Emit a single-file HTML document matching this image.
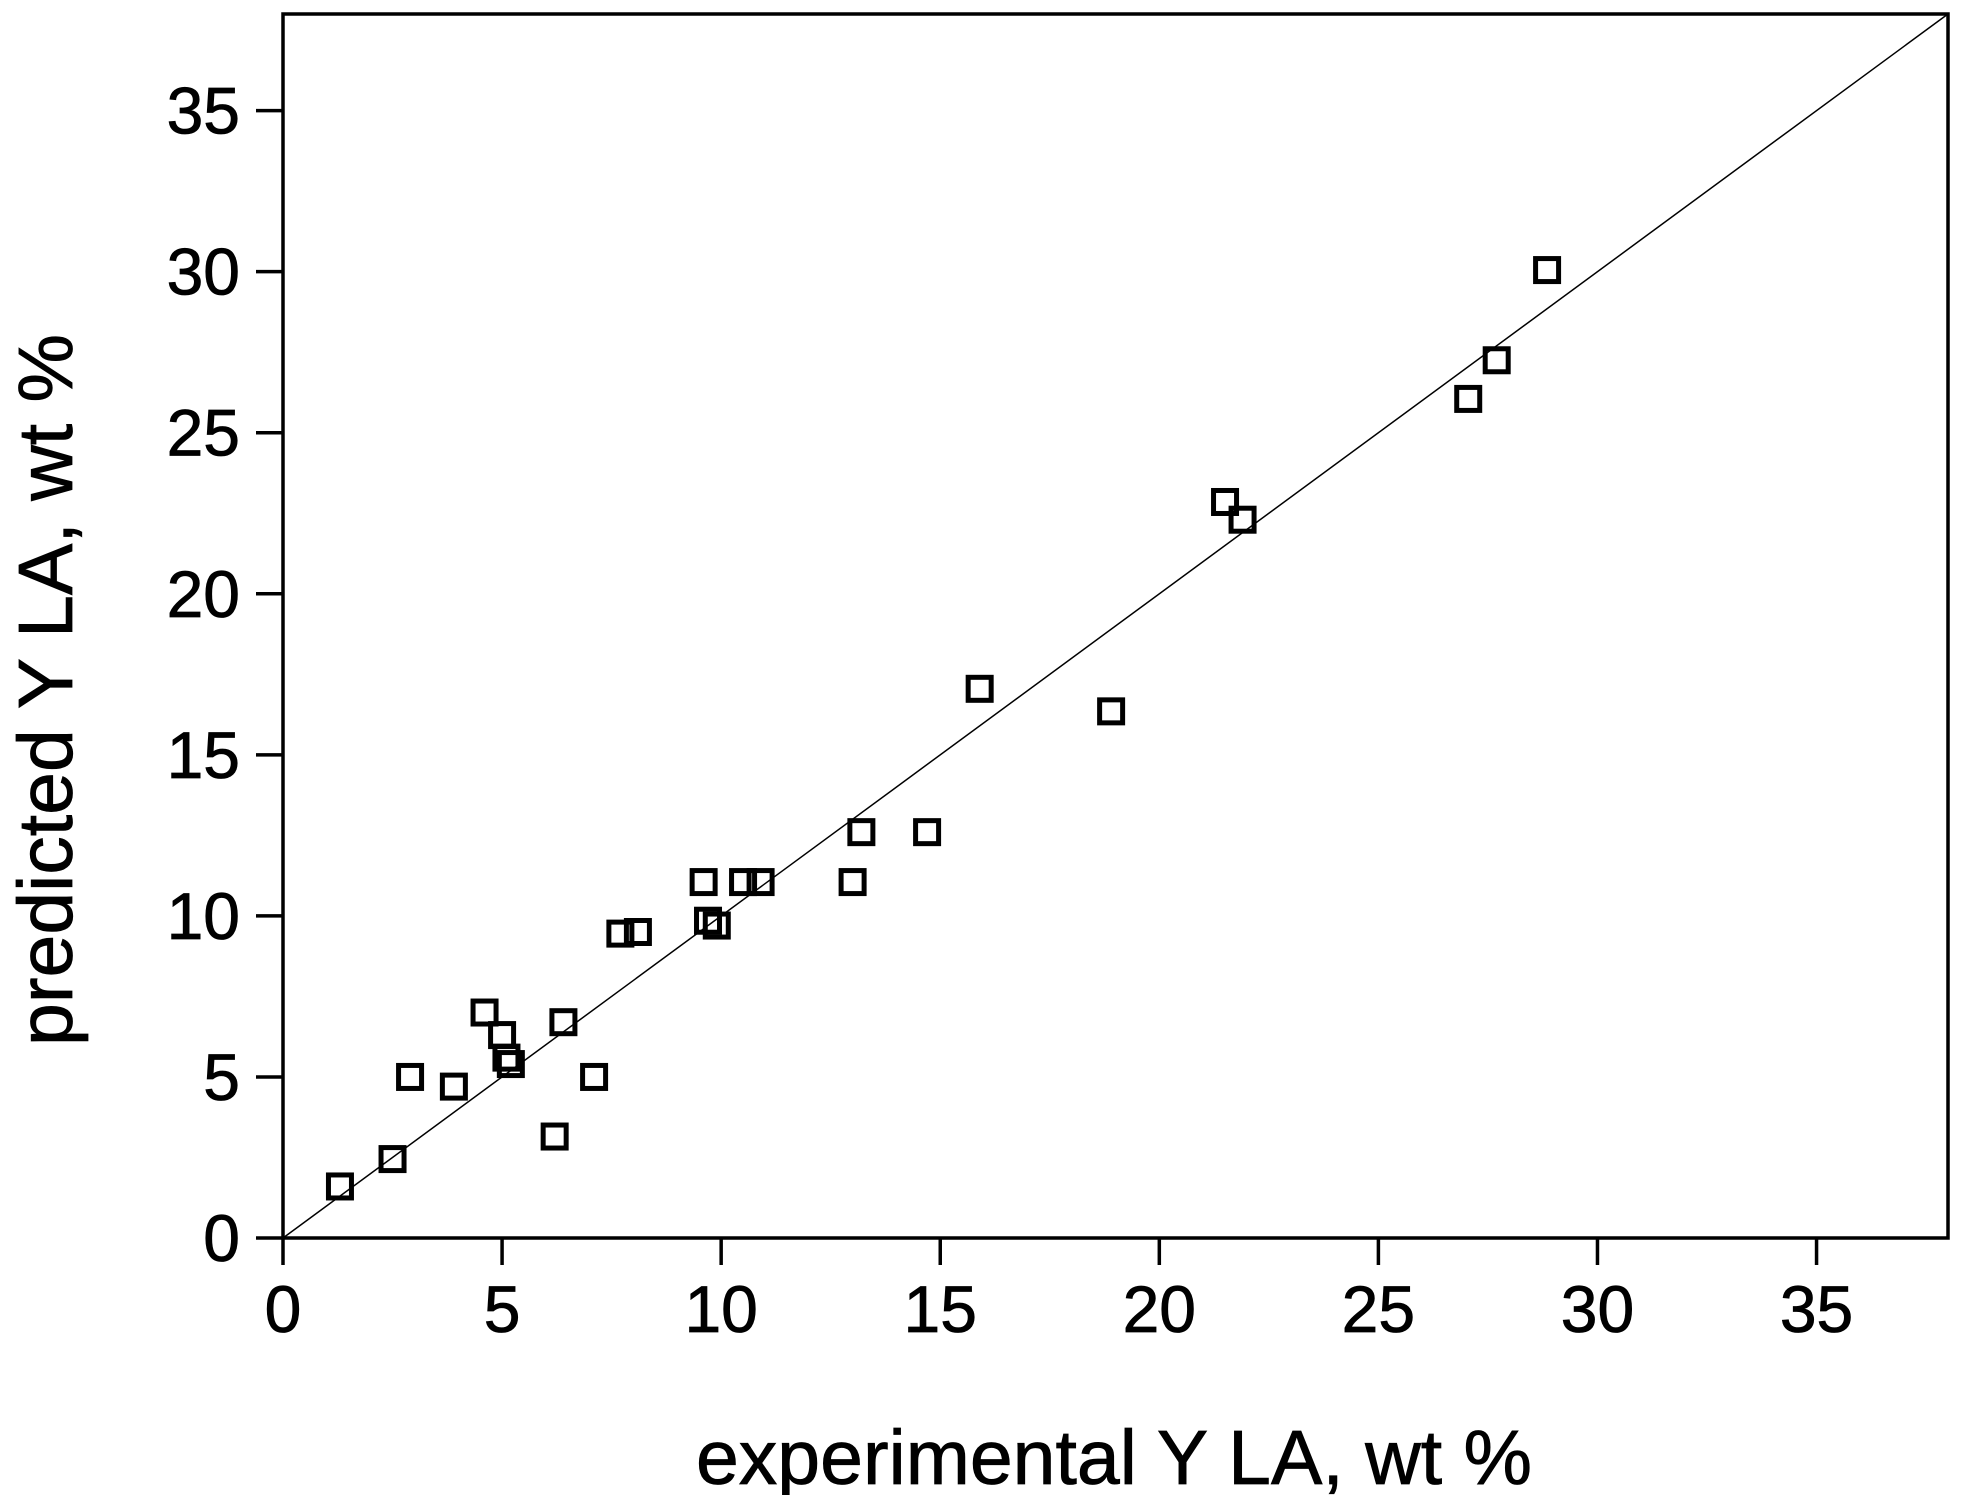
<!DOCTYPE html>
<html><head><meta charset="utf-8"><style>html,body{margin:0;padding:0;background:#fff}svg{display:block}</style></head>
<body>
<svg id="chart" width="1963" height="1495" xmlns="http://www.w3.org/2000/svg" font-family="Liberation Sans, Arial, sans-serif">
<g id="plot"></g>
</svg>
<script>
const expValues = [1.3,2.5,2.9,3.9,4.6,5.0,5.1,5.2,6.2,6.4,7.1,7.7,8.1,9.6,9.7,9.9,10.5,10.9,13.0,13.2,14.7,15.9,18.9,21.5,21.9,27.05,27.7,28.85];
const predValues = [1.6,2.45,5.0,4.7,7.0,6.3,5.6,5.4,3.15,6.7,5.0,9.45,9.5,11.05,9.85,9.7,11.05,11.05,11.05,12.6,12.6,17.05,16.35,22.85,22.3,26.05,27.25,30.05];
const xTicks = [0,5,10,15,20,25,30,35];
const yTicks = [0,5,10,15,20,25,30,35];

const X0=283, X1=1948, Y0=1238, Y1=14, DMAX=38;
const sx = v => X0 + v*(X1-X0)/DMAX;
const sy = v => Y0 - v*(Y0-Y1)/DMAX;
const NS="http://www.w3.org/2000/svg";
const g=document.getElementById('plot');
function mk(t,a){const e=document.createElementNS(NS,t);for(const k in a)e.setAttribute(k,a[k]);g.appendChild(e);return e;}

const frame=mk('rect',{x:X0,y:Y1,width:X1-X0,height:Y0-Y1,fill:'none',stroke:'#000','stroke-width':3.5});



const diag=mk('line',{x1:sx(0),y1:sy(0),x2:sx(DMAX),y2:sy(DMAX),stroke:'#000','stroke-width':1.5});



xTicks.forEach(t=>{
  const l=mk('line',{x1:sx(t),y1:Y0,x2:sx(t),y2:Y0+27,stroke:'#000','stroke-width':3.5});
  
  
  const tx=mk('text',{x:sx(t),y:1332,'font-size':66,'text-anchor':'middle','stroke':'#000','stroke-width':0.8});
  tx.textContent=t;
  
  
});
yTicks.forEach(t=>{
  const l=mk('line',{x1:X0-27,y1:sy(t),x2:X0,y2:sy(t),stroke:'#000','stroke-width':3.5});
  
  
  const tx=mk('text',{x:240,y:sy(t)+23,'font-size':66,'text-anchor':'end','stroke':'#000','stroke-width':0.8});
  tx.textContent=t;
  
  
});
expValues.forEach((v,i)=>{
  const s=23;
  const r=mk('rect',{x:sx(v)-s/2,y:sy(predValues[i])-s/2,width:s,height:s,fill:'none',stroke:'#000','stroke-width':5});
  
  
});
const xt=mk('text',{x:1114,y:1484,'font-size':77,'text-anchor':'middle','stroke':'#000','stroke-width':0.8});
xt.textContent='experimental Y LA, wt %';


const yt=mk('text',{x:0,y:0,'font-size':77,'text-anchor':'middle','stroke':'#000','stroke-width':0.8,transform:'translate(72,690) rotate(-90)'});
yt.textContent='predicted Y LA, wt %';


</script>
</body></html>
